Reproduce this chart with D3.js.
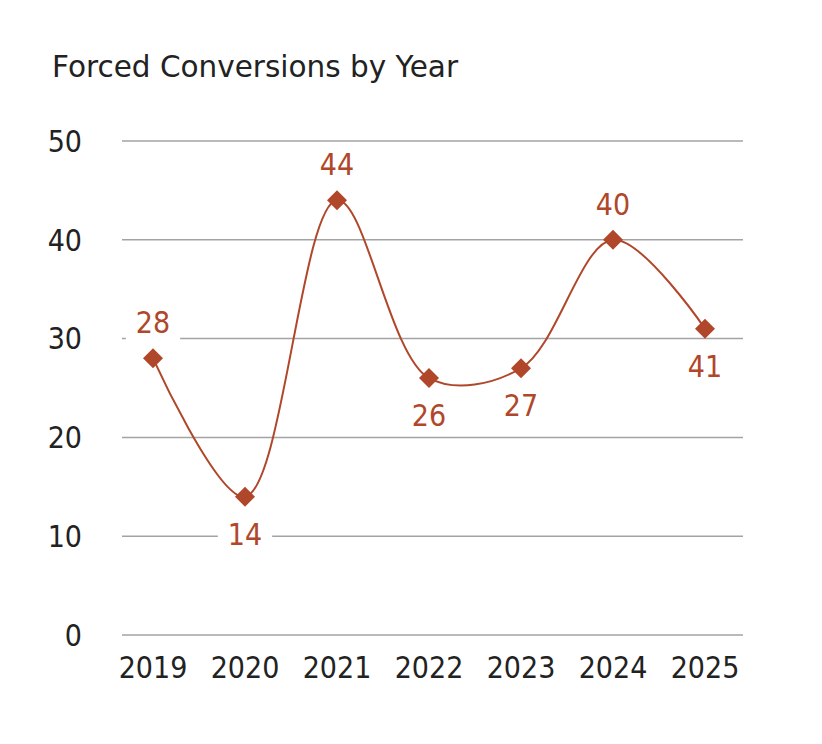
<!DOCTYPE html>
<html><head><meta charset="utf-8">
<script src="https://cdn.jsdelivr.net/npm/d3@7"></script>
<style>
html,body{margin:0;padding:0;background:#fff;}
svg text{font-family:"DejaVu Sans Condensed","DejaVu Sans",sans-serif;font-stretch:condensed;}
svg text.title{font-family:"DejaVu Sans",sans-serif;font-stretch:normal;}
</style></head>
<body>
<svg id="chart" width="822" height="744"></svg>
<script>
const years = ["2019","2020","2021","2022","2023","2024","2025"];
const values = [28, 14, 44, 26, 27, 40, 31];
const labels = ["28","14","44","26","27","40","41"];
const labelSide = ["above","below","above","below","below","above","below"];
const yTicks = [0, 10, 20, 30, 40, 50];
const title = "Forced Conversions by Year";

const color = "#b0472a";
const svg = d3.select("#chart");
const x = d3.scalePoint().domain(years).range([153, 705]);
const y = d3.scaleLinear().domain([0, 50]).range([635, 141]);
const gridX0 = 122, gridX1 = 743;

svg.append("text").attr("class", "title").attr("x", 52).attr("y", 77)
  .attr("font-size", 29.5).attr("fill", "#222").text(title);

// gridlines
svg.append("g").selectAll("line").data(yTicks).join("line")
  .attr("x1", gridX0).attr("x2", gridX1)
  .attr("y1", d => y(d)).attr("y2", d => y(d))
  .attr("stroke", "#a3a3a3").attr("stroke-width", 1.5);

// y tick labels
svg.append("g").selectAll("text").data(yTicks).join("text")
  .attr("x", 82).attr("y", d => y(d)).attr("dy", "0.36em")
  .attr("text-anchor", "end").attr("font-size", 30).attr("fill", "#222")
  .text(d => d);

// x labels
svg.append("g").selectAll("text").data(years).join("text")
  .attr("x", d => x(d)).attr("y", 678)
  .attr("text-anchor", "middle").attr("font-size", 30).attr("fill", "#222")
  .text(d => d);

const pts = years.map((yr, i) => ({yr, v: values[i], lab: labels[i], side: labelSide[i]}));

// line
const line = d3.line().x(d => x(d.yr)).y(d => y(d.v)).curve(d3.curveCatmullRom.alpha(0.5));
svg.append("path").datum(pts).attr("d", line)
  .attr("fill", "none").attr("stroke", color).attr("stroke-width", 2);

// labels with white boxes
const lg = svg.append("g");
pts.forEach(d => {
  const g = lg.append("g");
  const t = g.append("text")
    .attr("x", x(d.yr))
    .attr("y", y(d.v) + (d.side === "above" ? -25 : 48))
    .attr("text-anchor", "middle").attr("font-size", 30).attr("fill", color)
    .text(d.lab);
  const b = t.node().getBBox();
  g.insert("rect", "text")
    .attr("x", b.x - 10).attr("y", b.y - 3)
    .attr("width", b.width + 20).attr("height", b.height + 6)
    .attr("fill", "#fff");
});

// markers
svg.append("g").selectAll("path").data(pts).join("path")
  .attr("d", d3.symbol().type(d3.symbolSquare).size(200))
  .attr("transform", d => `translate(${x(d.yr)},${y(d.v)}) rotate(45)`)
  .attr("fill", color);
</script>
</body></html>
